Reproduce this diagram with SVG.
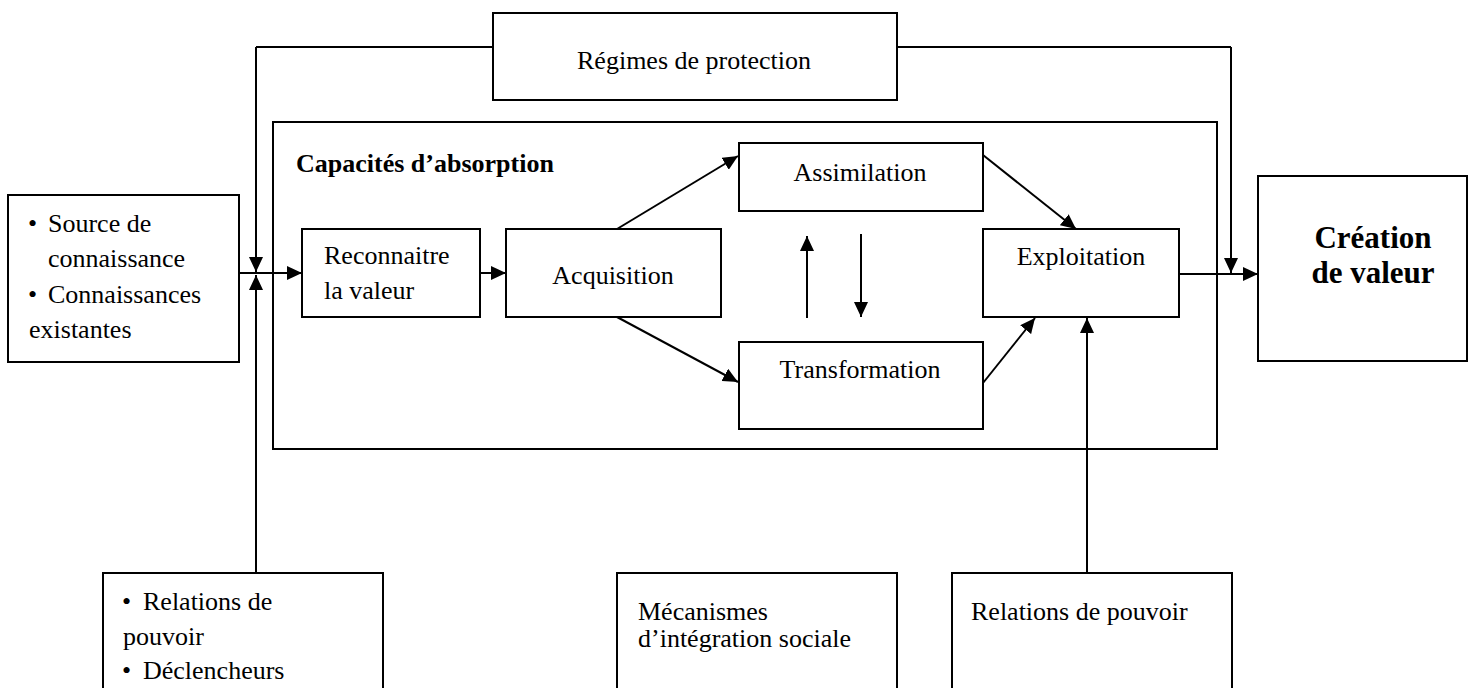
<svg xmlns="http://www.w3.org/2000/svg" width="1475" height="688" viewBox="0 0 1475 688">
  <style>
    .box { fill: #fff; stroke: #000; stroke-width: 2; }
    .frame { fill: none; stroke: #000; stroke-width: 2; }
    .t { font-family: "Liberation Serif", "Times New Roman", serif; font-size: 26px; fill: #000; }
    .c { text-anchor: middle; }
    .b { font-weight: bold; }
    .ln { fill: none; stroke: #000; stroke-width: 2; }
    .arr { fill: none; stroke: #000; stroke-width: 2; marker-end: url(#head); }
  </style>
  <defs>
    <marker id="head" markerUnits="userSpaceOnUse" markerWidth="15" markerHeight="14" refX="15" refY="7" orient="auto">
      <path d="M0,0 L15,7 L0,14 z" fill="#000"/>
    </marker>
  </defs>
  <rect width="1475" height="688" fill="#fff"/>

  <!-- connectors -->
  <g id="connectors">
    <!-- protection loop over the top -->
    <path class="ln" d="M256,47 H1231"/>
    <path class="arr" d="M256,47 V272"/>
    <path class="arr" d="M1231,47 V273"/>
    <!-- power relations / triggers up to the input junction -->
    <path class="arr" d="M256,573 V275"/>
    <!-- knowledge input -->
    <path class="arr" d="M239,273 H302"/>
    <path class="arr" d="M480,273 H506"/>
    <path class="arr" d="M617,229 L738,156"/>
    <path class="arr" d="M617,317 L738,382"/>
    <path class="arr" d="M807,318 V236"/>
    <path class="arr" d="M861,234 V317"/>
    <path class="arr" d="M983,155 L1076,229"/>
    <path class="arr" d="M983,383 L1035,318"/>
    <path class="arr" d="M1087,573 V318"/>
    <path class="arr" d="M1179,274 H1258"/>
  </g>

  <!-- absorptive capacity frame -->
  <g id="absorption">
    <rect class="frame" x="273" y="122" width="944" height="327"/>
    <text class="t b" x="296" y="172">Capacités d’absorption</text>
  </g>

  <g id="regimes">
    <rect class="box" x="493" y="13" width="404" height="87"/>
    <text class="t c" x="694" y="69">Régimes de protection</text>
  </g>

  <g id="sources">
    <rect class="box" x="8" y="195" width="231" height="167"/>
    <text class="t" x="28" y="232">•</text>
    <text class="t" x="48" y="232">Source de</text>
    <text class="t" x="48" y="267">connaissance</text>
    <text class="t" x="28" y="303">•</text>
    <text class="t" x="48" y="303">Connaissances</text>
    <text class="t" x="29" y="338">existantes</text>
  </g>

  <g id="reconnaitre">
    <rect class="box" x="302" y="229" width="178" height="88"/>
    <text class="t" x="324" y="264">Reconnaitre</text>
    <text class="t" x="324" y="299">la valeur</text>
  </g>

  <g id="acquisition">
    <rect class="box" x="506" y="229" width="215" height="88"/>
    <text class="t c" x="613" y="284">Acquisition</text>
  </g>

  <g id="assimilation">
    <rect class="box" x="739" y="143" width="244" height="68"/>
    <text class="t c" x="860" y="181">Assimilation</text>
  </g>

  <g id="transformation">
    <rect class="box" x="739" y="342" width="244" height="87"/>
    <text class="t c" x="860" y="378">Transformation</text>
  </g>

  <g id="exploitation">
    <rect class="box" x="983" y="229" width="196" height="88"/>
    <text class="t c" x="1081" y="265">Exploitation</text>
  </g>

  <g id="creation">
    <rect class="box" x="1258" y="176" width="209" height="185"/>
    <text class="t c b" x="1373" y="248" style="font-size:31px">Création</text>
    <text class="t c b" x="1373" y="283" style="font-size:31px">de valeur</text>
  </g>

  <g id="declencheurs">
    <rect class="box" x="103" y="573" width="280" height="120"/>
    <text class="t" x="122" y="610">•</text>
    <text class="t" x="143" y="610">Relations de</text>
    <text class="t" x="123" y="645">pouvoir</text>
    <text class="t" x="122" y="679">•</text>
    <text class="t" x="143" y="679">Déclencheurs</text>
  </g>

  <g id="integration">
    <rect class="box" x="617" y="573" width="280" height="120"/>
    <text class="t" x="638" y="620">Mécanismes</text>
    <text class="t" x="638" y="647">d’intégration sociale</text>
  </g>

  <g id="pouvoir">
    <rect class="box" x="952" y="573" width="280" height="120"/>
    <text class="t" x="971" y="620">Relations de pouvoir</text>
  </g>
</svg>
